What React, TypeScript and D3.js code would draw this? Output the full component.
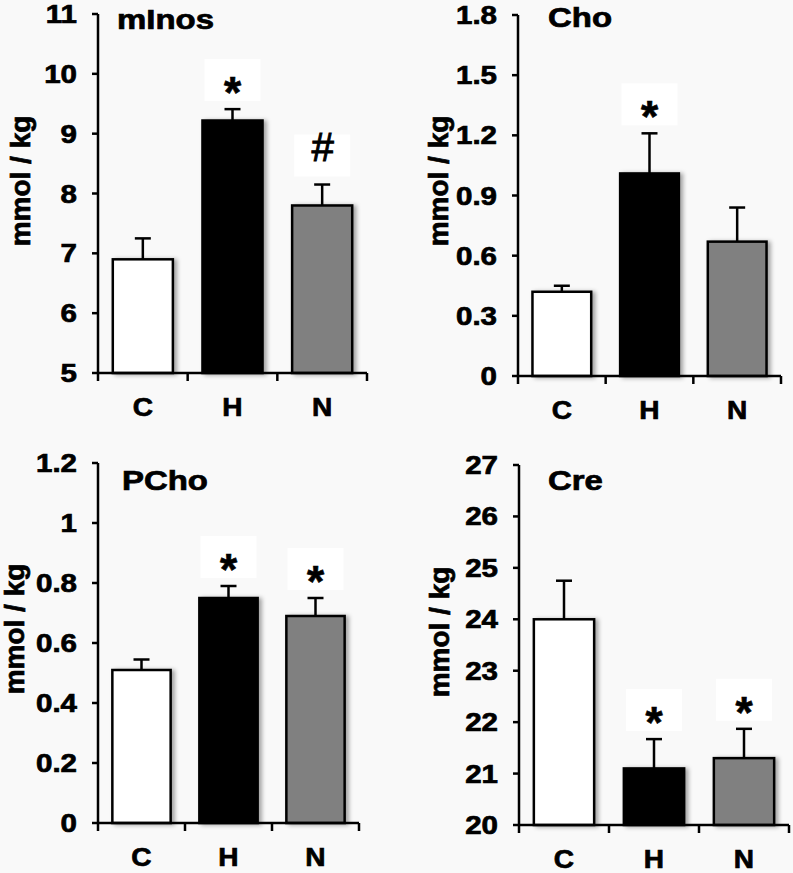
import React from "react";
import * as d3 from "d3";

const categories = ["C", "H", "N"];
const barColors = ["#ffffff", "#000000", "#808080"];

const mInosValues = [6.9, 9.22, 7.8];
const mInosErrors = [0.35, 0.19, 0.35];
const mInosMarks = ["", "*", "#"];
const mInosTicks = [5, 6, 7, 8, 9, 10, 11];

const choValues = [0.42, 1.01, 0.67];
const choErrors = [0.03, 0.2, 0.17];
const choMarks = ["", "*", ""];
const choTicks = [0, 0.3, 0.6, 0.9, 1.2, 1.5, 1.8];

const pchoValues = [0.51, 0.75, 0.69];
const pchoErrors = [0.035, 0.04, 0.06];
const pchoMarks = ["", "*", "*"];
const pchoTicks = [0, 0.2, 0.4, 0.6, 0.8, 1, 1.2];

const creValues = [24.0, 21.1, 21.3];
const creErrors = [0.75, 0.57, 0.57];
const creMarks = ["", "*", "*"];
const creTicks = [20, 21, 22, 23, 24, 25, 26, 27];

const FONT = "'Liberation Sans', Arial, Helvetica, sans-serif";
const HEAVY = { stroke: "#000", strokeWidth: 0.7 };

type PanelProps = {
  title: string;
  values: number[];
  errors: number[];
  marks: string[];
  ticks: number[];
  x0: number;
  x1: number;
  yTop: number;
  yBottom: number;
  titleX: number;
  titleY: number;
  labelX: number;
  labelY: number;
};

function Panel(p: PanelProps) {
  const y = d3
    .scaleLinear()
    .domain([p.ticks[0], p.ticks[p.ticks.length - 1]])
    .range([p.yBottom, p.yTop]);
  const x = d3.scaleBand<string>().domain(categories).range([p.x0, p.x1]).padding(0);
  const bw = x.bandwidth() * 0.67;
  const capW = 16;
  return (
    <g>
      {categories.map((c, i) => {
        if (!p.marks[i]) return null;
        const top = y(p.values[i] + p.errors[i]);
        const cx = (x(c) as number) + x.bandwidth() / 2;
        return (
          <rect key={"bx" + c} x={cx - 28} y={top - 50} width={56} height={42} fill="#ffffff" />
        );
      })}
      {categories.map((c, i) => {
        const cx = (x(c) as number) + x.bandwidth() / 2;
        return (
          <rect
            key={"b" + c}
            x={cx - bw / 2}
            y={y(p.values[i])}
            width={bw}
            height={p.yBottom - y(p.values[i])}
            fill={barColors[i]}
            stroke="#000"
            strokeWidth={2.5}
            filter="url(#shadow)"
          />
        );
      })}
      {categories.map((c, i) => {
        const cx = (x(c) as number) + x.bandwidth() / 2;
        const top = y(p.values[i] + p.errors[i]);
        return (
          <g key={"e" + c} stroke="#000" strokeWidth={2.5}>
            <line x1={cx} x2={cx} y1={y(p.values[i])} y2={top} />
            <line x1={cx - capW / 2} x2={cx + capW / 2} y1={top} y2={top} />
          </g>
        );
      })}
      {categories.map((c, i) => {
        const m = p.marks[i];
        if (!m) return null;
        const cx = (x(c) as number) + x.bandwidth() / 2;
        const top = y(p.values[i] + p.errors[i]);
        if (m === "#") {
          return (
            <text
              key={"m" + c}
              x={cx}
              y={top - 38 + 14}
              textAnchor="middle"
              fontFamily={FONT}
              fontStyle="italic"
              fontSize={40}
              fill="#000"
              stroke="#000"
              strokeWidth={1}
            >
              #
            </text>
          );
        }
        return (
          <text
            key={"m" + c}
            x={cx}
            y={top - 24 + 23}
            textAnchor="middle"
            fontFamily={FONT}
            fontWeight="bold"
            fontSize={44}
            fill="#000"
            {...HEAVY}
          >
            *
          </text>
        );
      })}
      <line x1={p.x0} x2={p.x0} y1={p.yTop} y2={p.yBottom} stroke="#000" strokeWidth={2.5} />
      {p.ticks.map((t) => (
        <g key={"t" + t}>
          <line x1={p.x0 - 6} x2={p.x0} y1={y(t)} y2={y(t)} stroke="#000" strokeWidth={2.5} />
          <text
            transform={`translate(${p.x0 - 21},${y(t) + 9}) scale(1.18,1)`}
            textAnchor="end"
            fontFamily={FONT}
            fontWeight="bold"
            fontSize={25}
            fill="#000"
            {...HEAVY}
          >
            {String(t)}
          </text>
        </g>
      ))}
      <line x1={p.x0} x2={p.x1} y1={p.yBottom} y2={p.yBottom} stroke="#000" strokeWidth={2.5} />
      {[...categories.map((c) => x(c) as number), p.x1].map((v, i) => (
        <line key={"xt" + i} x1={v} x2={v} y1={p.yBottom} y2={p.yBottom + 8} stroke="#000" strokeWidth={2.5} />
      ))}
      {categories.map((c) => (
        <text
          key={"xl" + c}
          transform={`translate(${(x(c) as number) + x.bandwidth() / 2},${p.yBottom + 43}) scale(1.08,1)`}
          textAnchor="middle"
          fontFamily={FONT}
          fontWeight="bold"
          fontSize={26}
          fill="#000"
          {...HEAVY}
        >
          {c}
        </text>
      ))}
      <text
        transform={`translate(${p.titleX},${p.titleY}) scale(1.22,1)`}
        fontFamily={FONT}
        fontWeight="bold"
        fontSize={27}
        fill="#000"
        {...HEAVY}
      >
        {p.title}
      </text>
      <text
        transform={`translate(${p.labelX},${p.labelY}) rotate(-90)`}
        textAnchor="middle"
        fontFamily={FONT}
        fontWeight="bold"
        fontSize={28}
        fill="#000"
        {...HEAVY}
      >
        mmol / kg
      </text>
    </g>
  );
}

export default function App() {
  return (
    <svg
      width={793}
      height={873}
      viewBox="0 0 793 873"
      style={{ position: "absolute", left: 0, top: 0, background: "#f9f9f9" }}
    >
      <defs>
        <filter id="shadow" x="-20%" y="-20%" width="150%" height="140%">
          <feDropShadow dx={3} dy={1} stdDeviation={2} floodColor="#000" floodOpacity={0.35} />
        </filter>
      </defs>
      <Panel
        title="mInos"
        values={mInosValues}
        errors={mInosErrors}
        marks={mInosMarks}
        ticks={mInosTicks}
        x0={98}
        x1={367}
        yTop={14}
        yBottom={373}
        titleX={117}
        titleY={29}
        labelX={30}
        labelY={181}
      />
      <Panel
        title="Cho"
        values={choValues}
        errors={choErrors}
        marks={choMarks}
        ticks={choTicks}
        x0={518}
        x1={781}
        yTop={15}
        yBottom={376}
        titleX={548}
        titleY={27}
        labelX={448}
        labelY={181}
      />
      <Panel
        title="PCho"
        values={pchoValues}
        errors={pchoErrors}
        marks={pchoMarks}
        ticks={pchoTicks}
        x0={98}
        x1={359}
        yTop={463}
        yBottom={823}
        titleX={122}
        titleY={490}
        labelX={24}
        labelY={629}
      />
      <Panel
        title="Cre"
        values={creValues}
        errors={creErrors}
        marks={creMarks}
        ticks={creTicks}
        x0={519}
        x1={789}
        yTop={465}
        yBottom={825}
        titleX={548}
        titleY={490}
        labelX={449}
        labelY={632}
      />
    </svg>
  );
}
